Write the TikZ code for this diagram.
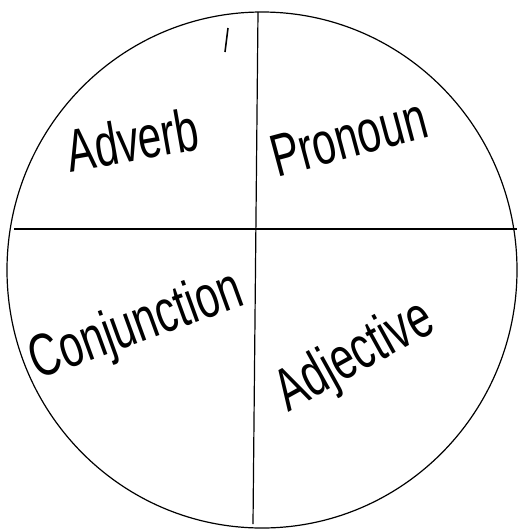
\documentclass[tikz,border=0pt]{standalone}
\usepackage{fontspec}
\setmainfont{Liberation Sans}

\begin{document}
\begin{tikzpicture}[x=1pt,y=-1pt,line width=1.2pt,
  word/.style={font=\fontsize{60}{60}\selectfont,anchor=base,xscale=0.7,inner sep=0pt}]
\useasboundingbox (0,0) rectangle (519,531);

\begin{scope}
\coordinate (o) at (262,270);
\coordinate (l) at (14,229);
\coordinate (r) at (517,229);
\coordinate (t) at (258,12);
\coordinate (b) at (253,524);
\coordinate (m1) at (228,28);
\coordinate (m2) at (225,52);

\draw (o) ellipse [x radius=255, y radius=258];
\draw (l) -- (r);
\draw (t) -- (b);
\draw[line width=1.6pt] (m1) -- (m2);

\node[rotate=10,word] (adverb) at (136,161) {Adverb};
\node[rotate=15,word] (pronoun) at (354,157) {Pronoun};
\node[rotate=20,word] (conj) at (142,342) {Conjunction};
\node[rotate=29,word] (adj) at (363,371) {Adjective};
\end{scope}

\end{tikzpicture}
\end{document}
